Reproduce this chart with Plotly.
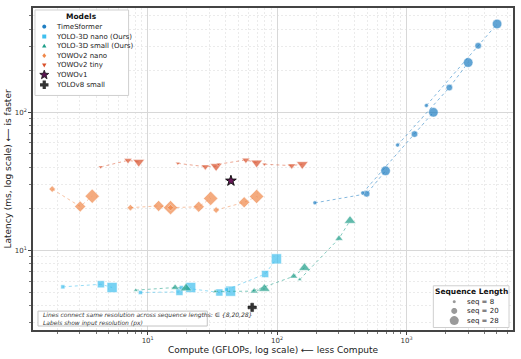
import math
import plotly.graph_objects as go

# ---------------- data ----------------
seq_lengths = [8, 20, 28]

# TimeSformer
ts_res = ["224px", "336px", "448px", "560px"]
ts_gflops = [[196, 492, 689], [459, 1153, 1614], [853, 2142, 2998], [1425, 3579, 5012]]
ts_lat = [[22.1, 25.7, 37.7], [26.1, 69.5, 100], [57.9, 151, 229], [112, 303, 436]]

# YOLO-3D nano (Ours)
yn_res = ["224px", "448px", "640px", "960px"]
yn_gflops = [[2.21, 4.35, 5.31], [8.79, 17.6, 21.5], [18.2, 35.8, 43.7], [40.7, 80.9, 98.8]]
yn_lat = [[5.45, 5.69, 5.39], [4.96, 5.01, 5.39], [5.39, 4.96, 5.07], [5.20, 6.75, 8.69]]

# YOLO-3D small (Ours)
ys_res = ["224px", "448px", "640px", "960px"]
ys_gflops = [[8.09, 16.3, 19.8], [33.2, 66.5, 79.8], [65.9, 134.4, 162.8], [149.5, 301, 366]]
ys_lat = [[5.16, 5.39, 5.33], [5.05, 5.07, 5.28], [5.11, 6.50, 7.48], [6.15, 12.2, 16.4]]

# YOWOv2 nano
wn_res = ["224px", "448px", "640px", "960px"]
wn_gflops = [[1.83, 3.01, 3.73], [7.36, 12.15, 15.03], [15.03, 24.8, 30.7], [33.8, 55.7, 69.5]]
wn_lat = [[27.8, 20.8, 24.7], [20.4, 21.0, 20.4], [20.4, 20.7, 23.8], [19.6, 22.3, 24.6]]

# YOWOv2 tiny
wt_res = ["224px", "448px", "640px", "960px"]
wt_gflops = [[4.33, 7.05, 8.53], [17.1, 27.9, 33.8], [35.2, 57.4, 69.5], [79.8, 129.7, 156.6]]
wt_lat = [[40.2, 44.9, 43.7], [42.7, 40.4, 40.7], [42.1, 45.2, 43.2], [42.1, 41.1, 42.1]]

# single points
yowov1_gflops, yowov1_lat, yowov1_res = 44.0, 31.9, "224px"
yolov8_gflops, yolov8_lat, yolov8_res = 64.2, 3.87, "960px"

x_tickvals = [10, 100, 1000]
x_ticktext = ["10<sup>1</sup>", "10<sup>2</sup>", "10<sup>3</sup>"]
y_tickvals = [10, 100]
y_ticktext = ["10<sup>1</sup>", "10<sup>2</sup>"]

model_names = ["TimeSformer", "YOLO-3D nano (Ours)", "YOLO-3D small (Ours)", "YOWOv2 nano",
               "YOWOv2 tiny", "YOWOv1", "YOLOv8 small"]
seq_names = ["seq = 8", "seq = 20", "seq = 28"]

# plot-area geometry in figure pixels (used only to place legend boxes / glyphs)
PL, PR, PT, PB = 33, 515, 7, 331


def dx(px):
    return (px - PL) / (PR - PL)


def dy(py):
    return (PB - py) / (PB - PT)


def poly(pts):
    return "M " + " L ".join(f"{dx(x):.5f},{dy(y):.5f}" for x, y in pts) + " Z"


def glyph(sym, cx, cy, s):
    """legend glyph path (pixel centre, size s) in paper coords"""
    h = s / 2
    if sym == "square":
        return poly([(cx - h, cy - h), (cx + h, cy - h), (cx + h, cy + h), (cx - h, cy + h)])
    if sym == "triangle-up":
        return poly([(cx, cy - h * 1.15), (cx + h * 1.1, cy + h * 0.8), (cx - h * 1.1, cy + h * 0.8)])
    if sym == "triangle-down":
        return poly([(cx, cy + h * 1.15), (cx + h * 1.1, cy - h * 0.8), (cx - h * 1.1, cy - h * 0.8)])
    if sym == "diamond":
        return poly([(cx, cy - h * 1.2), (cx + h, cy), (cx, cy + h * 1.2), (cx - h, cy)])
    if sym == "star":
        pts = []
        for k in range(10):
            r = h if k % 2 == 0 else h * 0.42
            a = -math.pi / 2 + k * math.pi / 5
            pts.append((cx + r * math.cos(a), cy + r * math.sin(a)))
        return poly(pts)
    if sym == "cross":
        w = h * 0.38
        return poly([(cx - w, cy - h), (cx + w, cy - h), (cx + w, cy - w), (cx + h, cy - w),
                     (cx + h, cy + w), (cx + w, cy + w), (cx + w, cy + h), (cx - w, cy + h),
                     (cx - w, cy + w), (cx - h, cy + w), (cx - h, cy - w), (cx - w, cy - w)])
    return poly([(cx + h * math.cos(t * math.pi / 10), cy + h * math.sin(t * math.pi / 10)) for t in range(20)])


# ---------------- figure ----------------
fig = go.Figure()

models = [
    dict(res=ts_res, gx=ts_gflops, gy=ts_lat, color="#1f7ec2",
         line="rgba(31,126,194,0.55)", symbol="circle", sizes=[4, 6.5, 9.5], lab_shift=7, lab_col="#5a9fd0"),
    dict(res=yn_res, gx=yn_gflops, gy=yn_lat, color="#3fbfee",
         line="rgba(63,191,238,0.55)", symbol="square", sizes=[4, 7, 10], lab_shift=7, lab_col="#6ccdf0"),
    dict(res=ys_res, gx=ys_gflops, gy=ys_lat, color="#1d9e88",
         line="rgba(29,158,136,0.55)", symbol="triangle-up", sizes=[4, 7, 10], lab_shift=-7, lab_col="#5bbfae"),
    dict(res=wn_res, gx=wn_gflops, gy=wn_lat, color="#f0884a",
         line="rgba(240,136,74,0.5)", symbol="diamond", sizes=[5, 8.5, 11], lab_shift=-7, lab_col="#f0a070"),
    dict(res=wt_res, gx=wt_gflops, gy=wt_lat, color="#d9502a",
         line="rgba(217,80,42,0.5)", symbol="triangle-down", sizes=[4, 7, 10], lab_shift=6, lab_col="#e07a5a"),
]

for m in models:
    for r, xs, ys in zip(m["res"], m["gx"], m["gy"]):
        fig.add_trace(go.Scatter(
            x=xs, y=ys, mode="lines+markers", showlegend=False,
            line=dict(color=m["line"], width=1, dash="dot"),
            marker=dict(symbol=m["symbol"], size=m["sizes"], color=m["color"],
                        line=dict(color="white", width=0.5)),
            hoverinfo="skip"))
        fig.add_annotation(x=xs[0], y=ys[0], xref="x", yref="y", text=r, showarrow=False,
                           yshift=m["lab_shift"], font=dict(size=5, color=m["lab_col"]))

# YOWOv1
fig.add_trace(go.Scatter(x=[yowov1_gflops], y=[yowov1_lat], mode="markers", showlegend=False,
                         marker=dict(symbol="star", size=8, color="#6a1a5a",
                                     line=dict(color="#111", width=1))))
fig.add_annotation(x=yowov1_gflops, y=yowov1_lat, text=yowov1_res, showarrow=False,
                   xshift=10, yshift=-4, font=dict(size=5, color="#c04b9a"))
# YOLOv8 small
fig.add_trace(go.Scatter(x=[yolov8_gflops], y=[yolov8_lat], mode="markers", showlegend=False,
                         marker=dict(symbol="cross", size=7, color="#333",
                                     line=dict(color="#111", width=0.5))))
fig.add_annotation(x=yolov8_gflops, y=yolov8_lat, text=yolov8_res, showarrow=False,
                   xshift=11, yshift=-4, font=dict(size=5, color="#777"))


# ---------- legends: boxes + glyphs as paper shapes (above), texts as annotations ----------
def box(x0, x1, y0, y1, border="#cfcfcf"):
    fig.add_shape(type="rect", xref="paper", yref="paper", layer="above",
                  x0=dx(x0), x1=dx(x1), y0=dy(y1), y1=dy(y0),
                  fillcolor="white", line=dict(color=border, width=1))


def txt(x, y, text, size=7, anchor="left", color="#222"):
    fig.add_annotation(xref="paper", yref="paper", x=dx(x), y=dy(y), text=text, showarrow=False,
                       xanchor=anchor, yanchor="middle", font=dict(size=size, color=color))


leg_sym = [(m["symbol"], m["color"], 4) for m in models] + [("star", "#5a1550", 9.5), ("cross", "#333", 8.5)]
leg_y = [25.7, 35.7, 45.2, 55.0, 64.5, 74.3, 84.3]
box(35, 129, 9, 95)
txt(82, 15.5, "<b>Models</b>", size=7.5, anchor="center", color="#111")
for (sym, col, sz), name, yy in zip(leg_sym, model_names, leg_y):
    fig.add_shape(type="path", xref="paper", yref="paper", layer="above", path=glyph(sym, 44.3, yy, sz),
                  fillcolor=col, line=dict(color="#111" if sym == "star" else col,
                                           width=0.8 if sym == "star" else 0))
    txt(54, yy, name)

box(435, 511, 286.5, 328.5)
txt(473, 292.7, "<b>Sequence Length</b>", size=7.5, anchor="center", color="#111")
for name, sz, yy in zip(seq_names, [3, 6, 9], [302.5, 311.8, 321.5]):
    fig.add_shape(type="path", xref="paper", yref="paper", layer="above", path=glyph("circle", 456, yy, sz),
                  fillcolor="#9a9a9a", line=dict(width=0))
    txt(466.5, yy, name)

box(38, 208, 312, 327, border="#c4c4c4")
fig.add_annotation(xref="paper", yref="paper", x=dx(41), y=dy(319.5), xanchor="left", yanchor="middle",
                   align="left", showarrow=False,
                   text="<i>Lines connect same resolution across sequence lengths: \u2208 {8,20,28}<br>Labels show input resolution (px)</i>",
                   font=dict(size=6, color="#333"))

axis_common = dict(type="log", showline=True, linecolor="#444", linewidth=1.5, mirror=True,
                   showgrid=True, gridcolor="#d8d8d8", gridwidth=1, zeroline=False,
                   ticks="outside", ticklen=3, tickcolor="#444", tickfont=dict(size=7, color="#333"),
                   minor=dict(ticks="outside", ticklen=2, tickcolor="#777", showgrid=True,
                              gridcolor="#ebebeb", griddash="2px,2px", gridwidth=1, dtick="D1"))

fig.update_layout(
    width=521, height=359, margin=dict(l=PL, r=521 - PR, t=PT, b=359 - PB),
    paper_bgcolor="white", plot_bgcolor="white", showlegend=False,
    font=dict(family="DejaVu Sans", color="#222"),
    xaxis=dict(axis_common, range=[0.114, 3.823], tickvals=x_tickvals, ticktext=x_ticktext,
               title=dict(text="Compute (GFLOPs, log scale) \u27f5 less Compute", font=dict(size=9), standoff=2)),
    yaxis=dict(axis_common, range=[0.424, 2.755], tickvals=y_tickvals, ticktext=y_ticktext,
               title=dict(text="Latency (ms, log scale) \u27f5 is faster", font=dict(size=9), standoff=2)),
)

fig.write_html("out.html")
